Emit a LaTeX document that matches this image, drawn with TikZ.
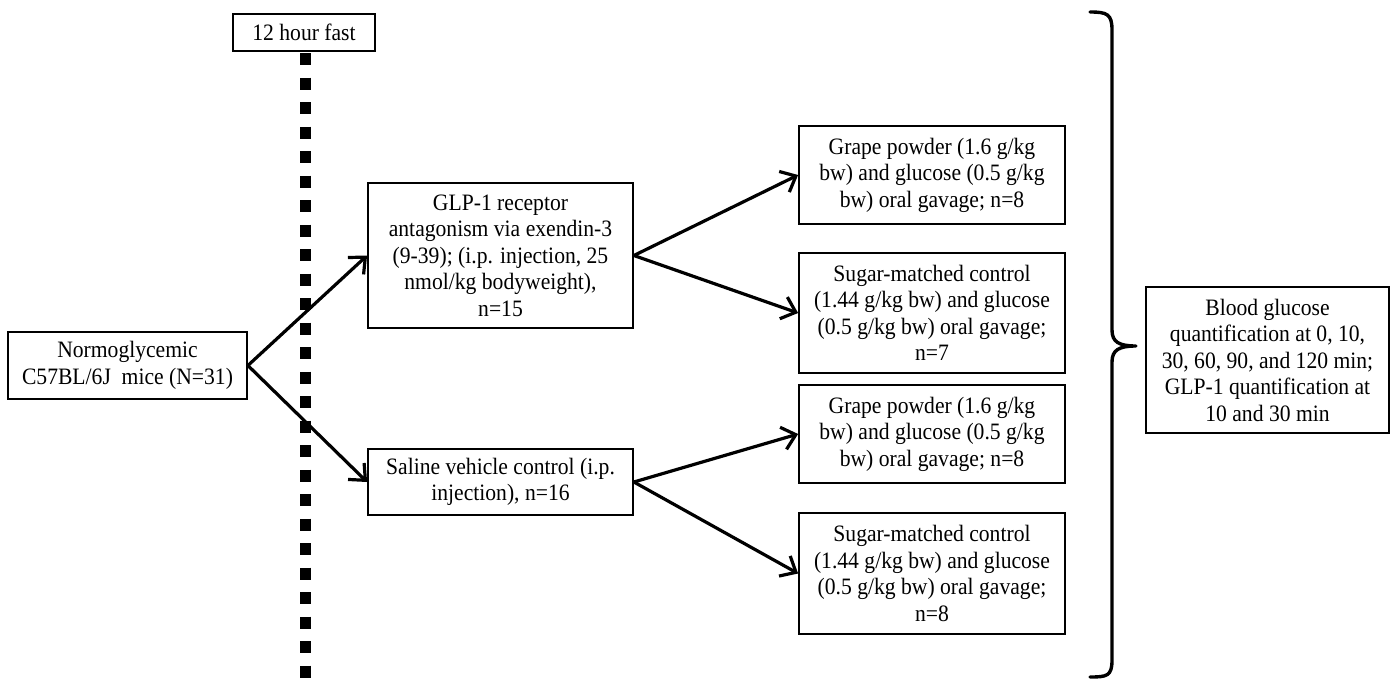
\documentclass[tikz,border=0pt]{standalone}
\usepackage{fontspec}
\setmainfont[FakeStretch=0.92]{Liberation Serif}
\usetikzlibrary{arrows.meta}
\begin{document}
\begin{tikzpicture}[x=1pt,y=-1pt,
  box/.style={draw=black,line width=1.8pt,fill=white,align=center,inner sep=0pt,
    font=\fontsize{23.5pt}{26.5pt}\selectfont},
  arr/.style={line width=3.2pt,-{Straight Barb[length=13pt,width=23pt,line width=3.2pt]}},
]
\useasboundingbox (0,0) rectangle (1392,680);
\fill[white] (0,0) rectangle (1392,680);
% dotted fast line
\draw[line width=11pt,dash pattern=on 12pt off 12.5pt] (305,53) -- (305,680);
\node[box,minimum width=142pt,minimum height=37pt] (fast) at (304,32.5) {12 hour fast};
\node[box,minimum width=239pt,minimum height=67pt] (normo) at (127.5,365.5) {Normoglycemic\\C57BL/6J\ \ mice (N=31)};
\node[box,minimum width=265pt,minimum height=145pt] (glp) at (500.5,255.5) {GLP-1 receptor\\antagonism via exendin-3\\(9-39); (i.p. injection, 25\\nmol/kg bodyweight),\\n=15};
\node[box,minimum width=265pt,minimum height=66pt] (sal) at (500.5,482) {Saline vehicle control (i.p.\\injection), n=16};
\node[box,minimum width=266pt,minimum height=98pt] (g1) at (932,175) {Grape powder (1.6 g/kg\\bw) and glucose (0.5 g/kg\\bw) oral gavage; n=8};
\node[box,minimum width=266pt,minimum height=120pt] (s1) at (932,313) {Sugar-matched control\\(1.44 g/kg bw) and glucose\\(0.5 g/kg bw) oral gavage;\\n=7};
\node[box,minimum width=266pt,minimum height=98pt] (g2) at (932,434) {Grape powder (1.6 g/kg\\bw) and glucose (0.5 g/kg\\bw) oral gavage; n=8};
\node[box,minimum width=266pt,minimum height=121pt] (s2) at (932,573.5) {Sugar-matched control\\(1.44 g/kg bw) and glucose\\(0.5 g/kg bw) oral gavage;\\n=8};
\node[box,minimum width=243pt,minimum height=146pt] (blood) at (1267.5,360) {Blood glucose\\quantification at 0, 10,\\30, 60, 90, and 120 min;\\GLP-1 quantification at\\10 and 30 min};
% arrows
\draw[arr] (normo.east) -- (glp.west);
\draw[arr] (normo.east) -- (sal.west);
\draw[arr] (glp.east) -- (g1.west);
\draw[arr] (glp.east) -- (s1.west);
\draw[arr] (sal.east) -- (g2.west);
\draw[arr] (sal.east) -- (s2.west);
% brace
\coordinate (bt) at (1090,12);
\coordinate (bm) at (1136,346);
\coordinate (bb) at (1090,677);
\draw[line width=3.4pt,line cap=round,line join=round]
  (bt) .. controls (1107,12) and (1112,14) .. (1112,30)
  -- (1112,330) .. controls (1112,342) and (1119,346) .. (bm)
  .. controls (1119,346) and (1112,350) .. (1112,362)
  -- (1112,660) .. controls (1112,676) and (1107,677) .. (bb);
\end{tikzpicture}
\end{document}
